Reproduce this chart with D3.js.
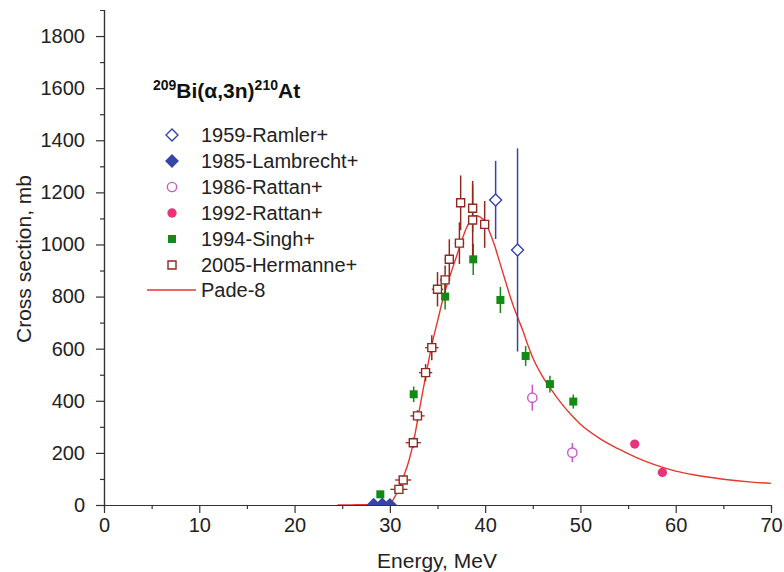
<!DOCTYPE html>
<html>
<head>
<meta charset="utf-8">
<script src="https://cdn.jsdelivr.net/npm/d3@7"></script>
<style>
  body { margin: 0; background: #fff; }
  svg { font-family: "Liberation Sans", Arial, sans-serif; }
</style>
</head>
<body>
<div id="main"></div>
<script>
const w = 784, h = 572

// 1959-Ramler+
const ramlerE = [41.1, 43.4]
const ramlerS = [1171, 979]
const ramlerErr = [150, 390]
// 1985-Lambrecht+
const lambrechtE = [28.3, 29.2, 30.0]
const lambrechtS = [1, 2, 0.5]
// 1986-Rattan+
const rattan86E = [44.95, 49.15]
const rattan86S = [412, 201]
const rattan86Err = [50, 37]
// 1992-Rattan+
const rattan92E = [55.7, 58.6]
const rattan92S = [234, 125]
// 1994-Singh+
const singhE = [29.0, 32.5, 35.8, 38.75, 41.6, 44.25, 46.8, 49.25]
const singhS = [41, 425, 800, 943, 787, 572, 464, 397]
const singhErr = [10, 30, 50, 60, 50, 38, 32, 27]
// 2005-Hermanne+
const hermE = [30.95, 31.4, 32.46, 32.9, 33.75, 34.4, 35.0, 35.8, 36.24, 37.3, 37.43, 38.69, 38.69, 39.95]
const hermS = [60, 96, 239, 342, 508, 604, 828, 864, 943, 1005, 1160, 1139, 1094, 1077]
const hermErr = [12, 15, 20, 22, 33, 48, 66, 55, 77, 80, 105, 90, 150, 90]
const hermXErr = [0.9, 0.85, 0.8, 0.75, 0.7, 0.7, 0.6, 0.55, 0.5, 0.5, 0.45, 0.45, 0.45, 0.4]
// Pade-8 fit
const padeE = [24.5, 26, 28, 29, 30, 30.5, 31, 31.5, 32, 32.5, 33, 33.5, 34, 34.5, 35, 35.5, 36, 36.5, 37, 37.5, 38, 38.5, 39, 39.5, 40, 40.5, 41, 41.5, 42, 42.5, 43, 43.5, 44, 44.5, 45, 46, 47, 48, 49, 50, 52, 54, 56, 58, 60, 62, 65, 68, 70]
const padeS = [0, 0.5, 1.5, 3, 6, 30, 68, 115, 170, 245, 345, 445, 540, 630, 705, 780, 845, 900, 955, 1010, 1060, 1095, 1110, 1105, 1085, 1045, 995, 935, 875, 815, 760, 712, 665, 612, 565, 495, 440, 390, 347, 310, 256, 215, 180, 152, 130, 115, 99, 88, 83]

const xTicks = [0, 10, 20, 30, 40, 50, 60, 70]
const yTicks = [0, 200, 400, 600, 800, 1000, 1200, 1400, 1600, 1800]

const legendNames = ['1959-Ramler+', '1985-Lambrecht+', '1986-Rattan+', '1992-Rattan+', '1994-Singh+', '2005-Hermanne+', 'Pade-8']

const blue = '#3545a8', magenta = '#c85ac8', pink = '#e8337a', green = '#138a13', brown = '#8e2a22', red = '#e8362c'

const svg = d3.select('#main')
            .append('svg')
            .attr('width', w)
            .attr('height', h)

const xScale = d3.scaleLinear().domain([0, 70]).range([104, 771])
const yScale = d3.scaleLinear().domain([0, 1900]).range([505, 10])

svg.append('defs').append('clipPath').attr('id', 'plot')
    .append('rect')
    .attr('x', xScale(0)).attr('y', yScale(1900))
    .attr('width', xScale(70) - xScale(0))
    .attr('height', yScale(0) - yScale(1900))

// axes
const styleAxis = g => {
    g.select('.domain').attr('stroke', '#333').attr('stroke-width', 1.2)
    g.selectAll('line').attr('stroke', '#333').attr('stroke-width', 1.2)
    g.selectAll('text').attr('fill', '#222').style('font-size', '20px')
}

svg.append('g')
    .attr('transform', 'translate(0,' + yScale(0) + ')')
    .call(d3.axisBottom(xScale).tickValues(d3.range(5, 70, 10)).tickSize(4).tickFormat(''))
    .call(styleAxis)
svg.append('g')
    .attr('transform', 'translate(0,' + yScale(0) + ')')
    .attr('id', 'x-axis')
    .call(d3.axisBottom(xScale).tickValues(xTicks).tickSize(8).tickSizeOuter(0).tickPadding(5).tickFormat(d3.format('d')))
    .call(styleAxis)

svg.append('g')
    .attr('transform', 'translate(' + xScale(0) + ',0)')
    .call(d3.axisLeft(yScale).tickValues(d3.range(100, 1900, 200)).tickSize(4).tickFormat(''))
    .call(styleAxis)
svg.append('g')
    .attr('transform', 'translate(' + xScale(0) + ',0)')
    .attr('id', 'y-axis')
    .call(d3.axisLeft(yScale).tickValues(yTicks).tickSize(8).tickSizeOuter(0).tickPadding(11).tickFormat(d3.format('d')))
    .call(styleAxis)

svg.append('text')
    .text('Energy, MeV')
    .attr('x', 437)
    .attr('y', 568)
    .attr('text-anchor', 'middle')
    .attr('fill', '#222')
    .style('font-size', '21px')

svg.append('text')
    .text('Cross section, mb')
    .attr('transform', 'translate(31,259) rotate(-90)')
    .attr('text-anchor', 'middle')
    .attr('fill', '#222')
    .style('font-size', '21px')

const plot = svg.append('g').attr('clip-path', 'url(#plot)')

// Pade curve
const pade = padeE.map((e, i) => [e, padeS[i]])
plot.append('path')
    .datum(pade)
    .attr('fill', 'none')
    .attr('stroke', red)
    .attr('stroke-width', 1.4)
    .attr('d', d3.line().x(d => xScale(d[0])).y(d => yScale(d[1])).curve(d3.curveMonotoneX))

// error bars
function yErrors(E, S, err, color) {
    plot.append('g').selectAll('line')
        .data(E.map((e, i) => [e, S[i], err[i]]))
        .enter()
        .append('line')
        .attr('x1', d => xScale(d[0])).attr('x2', d => xScale(d[0]))
        .attr('y1', d => yScale(d[1] - d[2])).attr('y2', d => yScale(d[1] + d[2]))
        .attr('stroke', color)
        .attr('stroke-width', 1.5)
}
yErrors(ramlerE, ramlerS, ramlerErr, blue)
yErrors(rattan86E, rattan86S, rattan86Err, magenta)
yErrors(singhE, singhS, singhErr, green)
yErrors(hermE, hermS, hermErr, brown)

plot.append('g').selectAll('line')
    .data(hermE.map((e, i) => [e, hermS[i], hermXErr[i]]))
    .enter()
    .append('line')
    .attr('x1', d => xScale(d[0] - d[2])).attr('x2', d => xScale(d[0] + d[2]))
    .attr('y1', d => yScale(d[1])).attr('y2', d => yScale(d[1]))
    .attr('stroke', brown)
    .attr('stroke-width', 1.3)

// markers
const diamond = d3.symbol(d3.symbolSquare, 72)
const square = d3.symbol(d3.symbolSquare, 64)
const circle = d3.symbol(d3.symbolCircle, 68)

function markers(E, S, path, fill, stroke, rot) {
    plot.append('g').selectAll('path')
        .data(E.map((e, i) => [e, S[i]]))
        .enter()
        .append('path')
        .attr('d', path)
        .attr('transform', d => 'translate(' + xScale(d[0]) + ',' + yScale(d[1]) + ')' + (rot ? ' rotate(45)' : ''))
        .attr('fill', fill)
        .attr('stroke', stroke)
        .attr('stroke-width', 1.4)
}
markers(lambrechtE, lambrechtS, diamond, blue, blue, true)
markers(singhE, singhS, square, green, 'none', false)
markers(hermE, hermS, square, '#fff', brown, false)
markers(ramlerE, ramlerS, diamond, '#fff', blue, true)
markers(rattan86E, rattan86S, circle, '#fff', magenta, false)
markers(rattan92E, rattan92S, circle, pink, 'none', false)

// legend
const title = svg.append('text')
    .attr('x', 153)
    .attr('y', 98)
    .attr('fill', '#111')
    .style('font-size', '21px')
    .style('font-weight', 'bold')
title.append('tspan').text('209').attr('dy', -8).style('font-size', '14px')
title.append('tspan').text('Bi(α,3n)').attr('dy', 8)
title.append('tspan').text('210').attr('dy', -8).style('font-size', '14px')
title.append('tspan').text('At').attr('dy', 8)

const legendY = [135, 161, 187, 213, 239, 265, 290]
const legendSym = [
    [diamond, '#fff', blue, true],
    [diamond, blue, blue, true],
    [circle, '#fff', magenta, false],
    [circle, pink, 'none', false],
    [square, green, 'none', false],
    [square, '#fff', brown, false]
]
const legend = svg.append('g').attr('id', 'legend')
legendSym.forEach((s, i) => {
    legend.append('path')
        .attr('d', s[0])
        .attr('transform', 'translate(172,' + legendY[i] + ')' + (s[3] ? ' rotate(45)' : ''))
        .attr('fill', s[1])
        .attr('stroke', s[2])
        .attr('stroke-width', 1.4)
})
legend.append('line')
    .attr('x1', 147).attr('x2', 196)
    .attr('y1', legendY[6]).attr('y2', legendY[6])
    .attr('stroke', red)
    .attr('stroke-width', 1.4)
legend.selectAll('text')
    .data(legendNames)
    .enter()
    .append('text')
    .text(d => d)
    .attr('x', 201)
    .attr('y', (d, i) => legendY[i] + 7)
    .attr('fill', '#222')
    .style('font-size', '20px')
</script>
</body>
</html>
